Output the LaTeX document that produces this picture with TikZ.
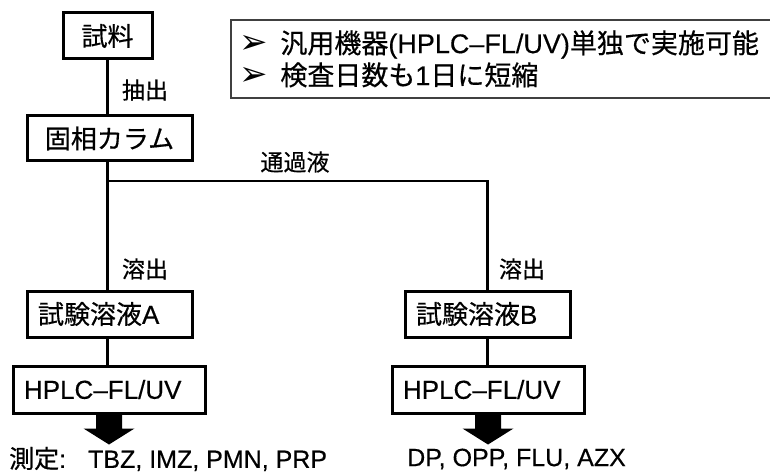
\documentclass[tikz,border=0pt]{standalone}
\usepackage{fontspec}
\setmainfont[FakeBold=0.4]{Liberation Sans}
\newfontfamily\jp[FakeBold=0.5]{Noto Sans CJK JP}
\newfontfamily\sym{DejaVu Sans}
\usetikzlibrary{calc}
\begin{document}
\begin{tikzpicture}[x=1pt,y=-1pt,
  box/.style={draw, line width=3pt, inner sep=0pt, font=\fontsize{26}{30}\selectfont},
  lbox/.style={box, inner xsep=11pt, align=left},
  lab/.style={inner sep=0pt, font=\jp\fontsize{23}{28}\selectfont},
  conn/.style={line width=2.4pt},
  res/.style={inner sep=0pt, anchor=west, font=\fontsize{25}{30}\selectfont},
  blockarrow/.style={fill=black, draw=none}]
\useasboundingbox (0,0) rectangle (770,473);
\fill[white] (0,0) rectangle (770,473);

% info box
\node[draw=black!75, line width=1.8pt, anchor=north west, inner xsep=9pt, inner ysep=0pt,
      minimum height=78pt, text width=545pt, align=left,
      font=\fontsize{27}{32}\selectfont] (info) at (230,19)
  {{\sym\fontsize{34}{32}\selectfont ➢}\hspace{12pt}{\jp 汎用機器}(HPLC–FL/UV){\jp 単独で実施可能}\\
   {\sym\fontsize{34}{32}\selectfont ➢}\hspace{12pt}{\jp 検査日数も}1{\jp 日に短縮}};

% boxes
\node[box, minimum width=89pt, minimum height=46pt] (s) at (107.5,36) {\jp 試料};
\node[box, minimum width=165pt, minimum height=45pt] (c) at (109.5,138.5) {\jp 固相カラム};
\node[lbox, text width=143pt, minimum height=46pt] (tA) at (109.5,314) {{\jp 試験溶液}A};
\node[lbox, text width=170pt, minimum height=47pt] (hA) at (109,389.5) {HPLC–FL/UV};
\node[lbox, text width=143pt, minimum height=46pt] (tB) at (487.5,314) {{\jp 試験溶液}B};
\node[lbox, text width=170pt, minimum height=47pt] (hB) at (488,389.5) {HPLC–FL/UV};

% connectors
\coordinate (split) at (107,181);
\draw[conn] (s.south) -- (s.south |- c.north);
\draw[conn] (s.south |- c.south) -- (s.south |- tA.north);
\draw[conn] (split) -| (tB.north);
\draw[conn] (s.south |- tA.south) -- (s.south |- hA.north);
\draw[conn] (tB.south) -- (tB.south |- hB.north);

% labels
\node[lab] (l1) at (145,90) {抽出};
\node[lab] (l2) at (295,162) {通過液};
\node[lab] (l3) at (145,269) {溶出};
\node[lab] (l4) at (522,269) {溶出};

% block arrows
\foreach \h in {hA,hB}{
  \fill[blockarrow] ($(\h.south)+(-13,0)$) -- ++(0,14) -- ++(-12.5,0) -- ++(25.5,16) -- ++(25.5,-16) -- ++(-12.5,0) -- ++(0,-14) -- cycle;
}

% results
\node[res] (rA) at (9,459) {{\jp 測定}:\hspace{22pt}TBZ, IMZ, PMN, PRP};
\node[res] (rB) at (407,459) {DP, OPP, FLU, AZX};
\end{tikzpicture}
\end{document}
